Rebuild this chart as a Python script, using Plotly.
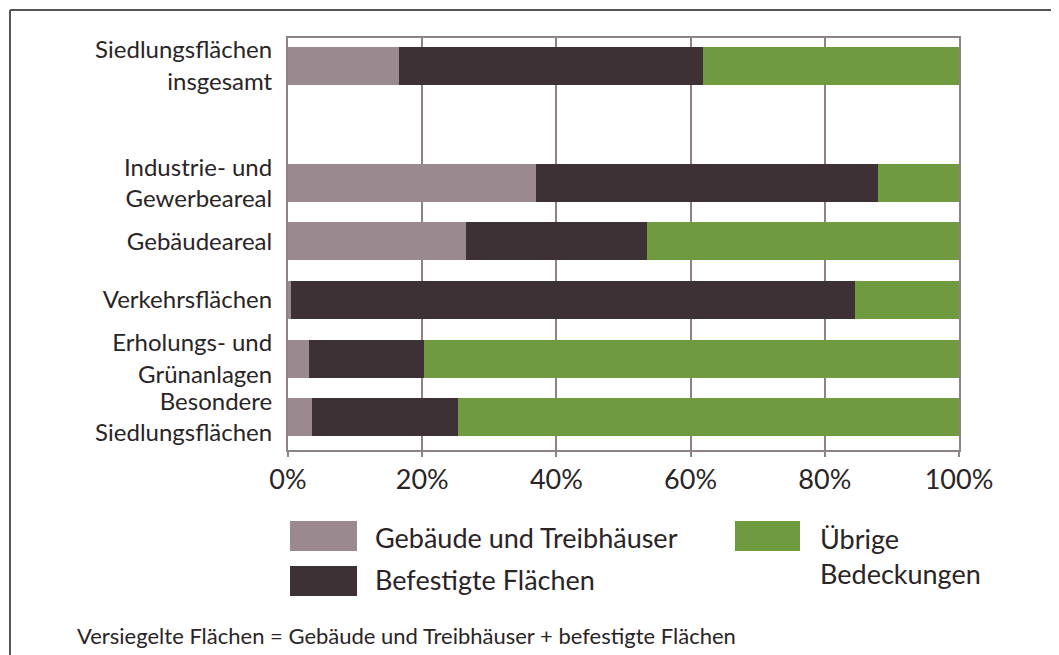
import plotly.graph_objects as go

categories = ["Siedlungsflächen<br>insgesamt", "Industrie- und<br>Gewerbeareal", "Gebäudeareal",
              "Verkehrsflächen", "Erholungs- und<br>Grünanlagen", "Besondere<br>Siedlungsflächen"]
gebaeude = [16.6, 36.9, 26.5, 0.4, 3.1, 3.6]
befestigt = [45.3, 51.0, 27.0, 84.1, 17.2, 21.7]
uebrige = [38.1, 12.1, 46.5, 15.5, 79.7, 74.7]
series_names = ["Gebäude und Treibhäuser", "Befestigte Flächen", "Übrige<br>Bedeckungen"]
tick_vals = [0, 20, 40, 60, 80, 100]
tick_text = ["0%", "20%", "40%", "60%", "80%", "100%"]
footnote = "Versiegelte Flächen = Gebäude und Treibhäuser + befestigte Flächen"

C_GRAY = "#9a898e"
C_DARK = "#3e3135"
C_GREEN = "#6f9a3f"
C_GRID = "#8e8287"
C_TEXT = "#2a2426"
FONT = "Lato"

# page body margin offset (browser default 8px)
OX, OY = 8, 8
W, H = 1059 - OX, 655 - OY
# plot area in screenshot pixels
L, R, T, B = 288, 959, 38, 450

def px(x):
    return (x - L) / (R - L)

def py(y):
    return (B - y) / (B - T)

spacer = " "
cat_order = [categories[0], spacer] + categories[1:]

fig = go.Figure()
for vals, color, name in zip([gebaeude, befestigt, uebrige], [C_GRAY, C_DARK, C_GREEN], series_names):
    fig.add_trace(go.Bar(y=categories, x=vals, orientation="h", marker=dict(color=color, line=dict(width=0)),
                         width=0.65, name=name, showlegend=False))

fig.update_layout(
    width=W, height=H, barmode="stack",
    margin=dict(l=L - OX, r=(W + OX) - R, t=T - OY, b=(H + OY) - B, pad=0),
    paper_bgcolor="white", plot_bgcolor="white",
    font=dict(family=FONT, color=C_TEXT),
    xaxis=dict(range=[0, 100], tickvals=tick_vals, ticktext=tick_text, showgrid=True,
               gridcolor=C_GRID, gridwidth=2, zeroline=False, showline=True, mirror=True,
               linecolor=C_GRID, linewidth=2, ticks="outside", ticklen=5, tickwidth=2,
               tickcolor=C_GRID, tickfont=dict(size=27, family=FONT, color=C_TEXT)),
    yaxis=dict(type="category", categoryorder="array", categoryarray=cat_order,
               range=[6.56, -0.47], showgrid=False, zeroline=False, showline=True, mirror=True,
               linecolor=C_GRID, linewidth=2, ticks="", ticklabelstandoff=9,
               tickfont=dict(size=24, family=FONT, color=C_TEXT)),
)

shapes = []
# outer frame (left and top edges)
shapes.append(dict(type="line", xref="paper", yref="paper", x0=px(10), x1=px(10), y0=py(10), y1=py(700),
                   line=dict(color="#555", width=2)))
shapes.append(dict(type="line", xref="paper", yref="paper", x0=px(10), x1=px(1100), y0=py(10), y1=py(10),
                   line=dict(color="#555", width=2)))
# legend swatches
sw = [(290, 357, 521, 551, C_GRAY), (290, 357, 566, 596, C_DARK), (735, 800, 521, 551, C_GREEN)]
for x0, x1, y0, y1, c in sw:
    shapes.append(dict(type="rect", xref="paper", yref="paper", x0=px(x0), x1=px(x1), y0=py(y0), y1=py(y1),
                       fillcolor=c, line=dict(width=0)))
fig.update_layout(shapes=shapes)

ann = [
    (373, 537, series_names[0]),
    (373, 579, series_names[1]),
    (818, 556, series_names[2]),
]
for x, y, t in ann:
    fig.add_annotation(x=px(x), y=py(y), xref="paper", yref="paper", text=t, showarrow=False,
                       xanchor="left", yanchor="middle", align="left",
                       font=dict(size=27, family=FONT, color=C_TEXT))
fig.add_annotation(x=px(75), y=py(635), xref="paper", yref="paper", text=footnote, showarrow=False,
                   xanchor="left", yanchor="middle", font=dict(size=22, family=FONT, color=C_TEXT))

fig.write_html("out.html")
